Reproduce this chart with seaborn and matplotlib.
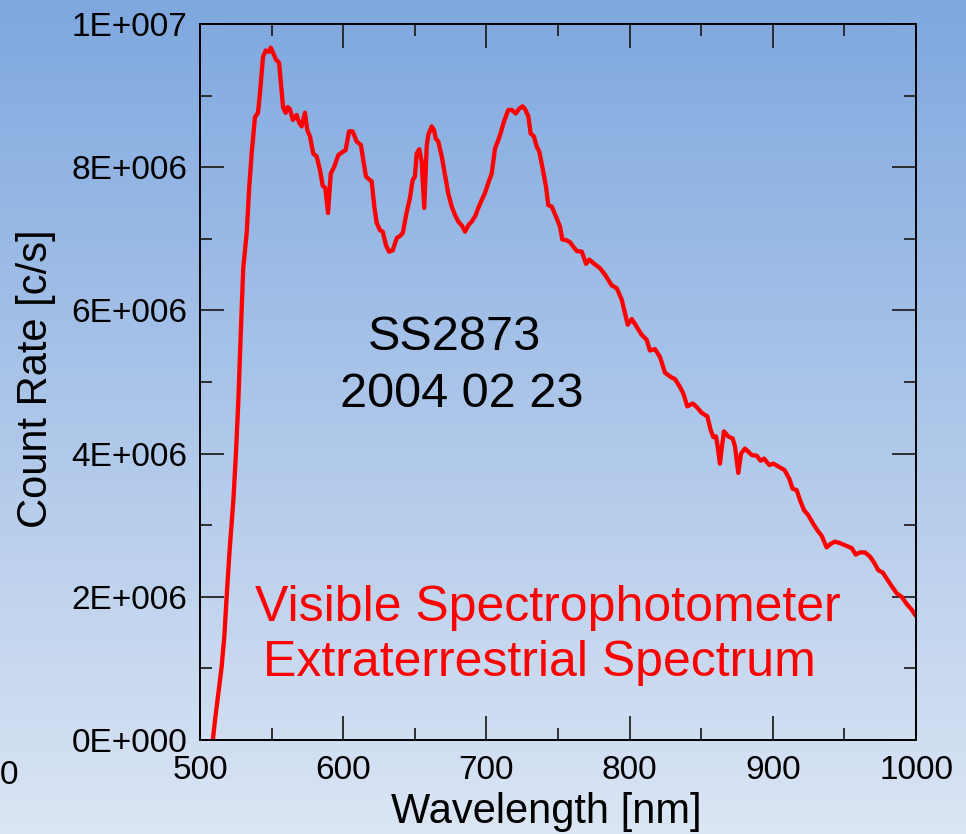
import numpy as np
import pandas as pd
import matplotlib
matplotlib.use("Agg")
import matplotlib.pyplot as plt
import seaborn as sns

# ---- data ----
wavelength = [
    509.0, 509.5, 510.5, 512.5, 515.1, 517.0, 518.6, 520.5, 523.3, 525.1, 526.8, 528.5, 530.2,
    532.6, 534.4, 536.1, 538.4, 540.5, 541.9, 544.0, 545.9, 548.2, 549.4, 550.8, 553.1, 555.2,
    557.1, 558.0, 559.8, 561.2, 562.8, 564.9, 567.5, 569.3, 571.0, 573.3, 574.9, 576.8, 579.1,
    581.5, 583.8, 585.7, 587.5, 589.4, 591.3, 593.8, 596.6, 600.1, 601.7, 604.1, 606.6, 609.4,
    612.4, 614.0, 615.9, 617.5, 619.9, 621.7, 623.4, 625.7, 627.6, 629.9, 632.0, 634.6, 637.4,
    639.7, 641.6, 643.9, 646.6, 648.5, 650.1, 651.3, 653.1, 654.8, 656.6, 658.3, 659.4, 661.8,
    663.4, 664.6, 666.4, 668.8, 671.1, 673.4, 675.8, 678.1, 680.4, 682.7, 685.1, 687.4, 689.7,
    692.0, 694.3, 696.7, 699.0, 701.3, 703.7, 706.0, 708.3, 710.0, 712.3, 715.3, 717.7, 720.5,
    723.0, 725.3, 727.0, 729.3, 730.9, 733.2, 735.1, 736.9, 739.3, 741.6, 743.2, 745.6, 748.6,
    751.4, 753.0, 756.0, 758.5, 760.3, 763.1, 766.6, 769.6, 771.9, 774.7, 779.3, 782.8, 787.5,
    791.0, 794.5, 796.8, 798.7, 801.5, 805.0, 808.4, 811.9, 814.2, 817.7, 821.2, 824.7, 828.7,
    831.7, 835.2, 837.5, 840.3, 844.1, 846.9, 850.3, 854.3, 856.6, 858.5, 860.3, 861.5, 863.1,
    864.3, 865.9, 868.9, 872.0, 873.6, 875.9, 877.8, 880.6, 885.3, 888.8, 891.5, 893.9, 897.6,
    900.4, 903.8, 908.2, 911.5, 913.8, 916.7, 919.0, 921.8, 924.8, 927.9, 931.1, 934.2, 937.6,
    940.4, 943.4, 946.9, 950.4, 955.1, 957.9, 960.9, 964.4, 967.9, 970.7, 973.7, 976.7, 980.0,
    983.0, 986.5, 990.0, 993.5, 997.0, 1000.0,
]
count_rate_millions = [
    0.00, 0.10, 0.28, 0.60, 1.02, 1.45, 2.00, 2.60, 3.35, 4.00, 4.75, 5.70, 6.59,
    7.08, 7.73, 8.20, 8.70, 8.76, 9.04, 9.54, 9.63, 9.61, 9.67, 9.61, 9.50, 9.46,
    9.04, 8.84, 8.76, 8.84, 8.81, 8.66, 8.73, 8.62, 8.57, 8.76, 8.52, 8.43, 8.19,
    8.15, 7.96, 7.74, 7.71, 7.36, 7.91, 8.01, 8.17, 8.22, 8.24, 8.50, 8.50, 8.36,
    8.31, 8.10, 7.87, 7.84, 7.80, 7.45, 7.22, 7.12, 7.10, 6.91, 6.82, 6.84, 7.01,
    7.04, 7.08, 7.33, 7.57, 7.82, 7.87, 8.19, 8.25, 8.08, 7.43, 8.29, 8.45, 8.57,
    8.52, 8.40, 8.36, 8.15, 7.89, 7.63, 7.45, 7.33, 7.24, 7.19, 7.10, 7.19, 7.24,
    7.31, 7.43, 7.54, 7.64, 7.78, 7.91, 8.26, 8.38, 8.48, 8.64, 8.80, 8.80, 8.75,
    8.82, 8.85, 8.81, 8.71, 8.47, 8.43, 8.29, 8.22, 7.98, 7.73, 7.47, 7.45, 7.31,
    7.17, 6.99, 6.98, 6.95, 6.90, 6.83, 6.82, 6.65, 6.71, 6.66, 6.59, 6.50, 6.35,
    6.31, 6.15, 5.96, 5.80, 5.88, 5.77, 5.66, 5.59, 5.44, 5.46, 5.35, 5.13, 5.07,
    5.04, 4.93, 4.84, 4.66, 4.70, 4.65, 4.57, 4.52, 4.33, 4.23, 4.24, 4.10, 3.86,
    4.07, 4.31, 4.24, 4.21, 4.10, 3.73, 4.00, 4.07, 3.98, 3.97, 3.90, 3.93, 3.84,
    3.86, 3.82, 3.77, 3.65, 3.51, 3.49, 3.35, 3.21, 3.14, 3.03, 2.93, 2.85, 2.69,
    2.74, 2.77, 2.75, 2.72, 2.68, 2.59, 2.62, 2.62, 2.56, 2.48, 2.37, 2.34, 2.24,
    2.15, 2.05, 2.00, 1.90, 1.82, 1.73,
]
x_ticks = [500, 600, 700, 800, 900, 1000]
y_ticks = [0, 2e6, 4e6, 6e6, 8e6, 1e7]
y_tick_labels = ["0E+000", "2E+006", "4E+006", "6E+006", "8E+006", "1E+007"]
title_lines = ["SS2873", "2004 02 23"]
red_lines = ["Visible Spectrophotometer", "Extraterrestrial Spectrum"]

df = pd.DataFrame({
    "Wavelength": wavelength,
    "Count": np.array(count_rate_millions) * 1e6,
})

sns.set_style("ticks")
plt.rcParams["font.family"] = ["Liberation Sans", "DejaVu Sans"]
plt.rcParams["text.color"] = "black"
plt.rcParams["axes.labelcolor"] = "black"

W, H = 966, 834
fig = plt.figure(figsize=(W / 100, H / 100), dpi=100)

# background gradient
bg = fig.add_axes([0, 0, 1, 1], zorder=-10)
top = np.array([127, 168, 223]) / 255.0
bot = np.array([219, 229, 244]) / 255.0
t = np.linspace(0, 1, 256)[:, None]
grad = top[None, :] * (1 - t) + bot[None, :] * t
bg.imshow(grad[:, None, :].repeat(2, axis=1), aspect="auto", extent=[0, 1, 0, 1])
bg.set_axis_off()

ax = fig.add_axes([200 / W, 1 - 740 / H, 716 / W, 716 / H])
ax.patch.set_alpha(0)

sns.lineplot(data=df, x="Wavelength", y="Count", ax=ax, color="#ff0000",
             linewidth=3.1, legend=False, sort=False)

ax.set_xlim(500, 1000)
ax.set_ylim(0, 1e7)
ax.set_xticks(x_ticks)
ax.set_xticks(np.arange(550, 1000, 100), minor=True)
ax.set_yticks(y_ticks)
ax.set_yticklabels(y_tick_labels)
ax.set_yticks(np.arange(1e6, 1e7, 2e6), minor=True)

for s in ax.spines.values():
    s.set_visible(True)
    s.set_color("black")
    s.set_linewidth(1.4)

ax.tick_params(which="major", direction="in", length=17, width=1.3,
               color="#222222", top=True, right=True, labelsize=24,
               labelcolor="black")
ax.tick_params(which="minor", direction="in", length=8.5, width=1.3,
               color="#222222", top=True, right=True)
ax.tick_params(axis="x", which="major", pad=11)
ax.tick_params(axis="y", which="major", pad=9)

ax.set_xlabel("Wavelength [nm]", fontsize=30, color="black")
ax.xaxis.label.set_va("center")
ax.xaxis.set_label_coords((546.5 - 200) / 716, -(812 - 740) / 716)
ax.set_ylabel("Count Rate [c/s]", fontsize=30, color="black")
ax.yaxis.label.set_va("center")
ax.yaxis.set_label_coords((36 - 200) / 716, (740 - 379) / 716)

def fx(px):
    return px / W

def fy(py):
    return 1 - py / H

fig.text(fx(454), fy(338), title_lines[0], fontsize=35, ha="center", va="center", color="black")
fig.text(fx(462), fy(395), title_lines[1], fontsize=35, ha="center", va="center", color="black")
fig.text(fx(548), fy(608), red_lines[0], fontsize=36, ha="center", va="center", color="#ff0000")
fig.text(fx(539), fy(663), red_lines[1], fontsize=36, ha="center", va="center", color="#ff0000")
fig.text(fx(0), fy(775), "0", fontsize=24, ha="left", va="center", color="black")

fig.savefig("out.png", dpi=100)
